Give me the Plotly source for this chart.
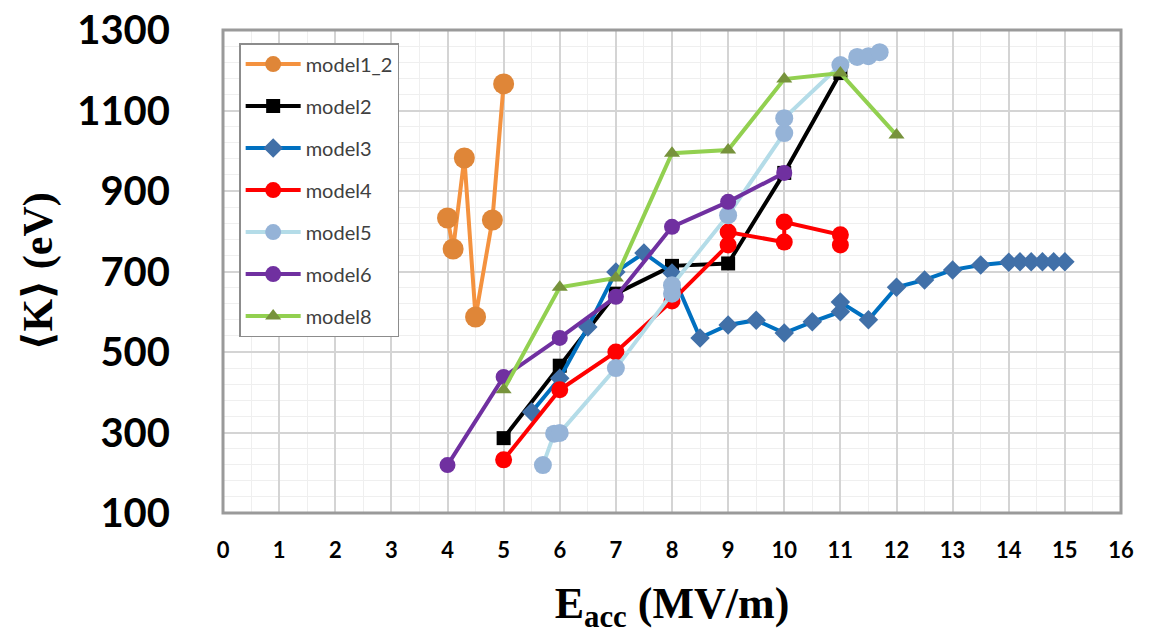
import plotly.graph_objects as go

# ---- data ----
x_m1_2 = [4.0, 4.1, 4.3, 4.5, 4.8, 5.0]
y_m1_2 = [833, 756, 982, 587, 828, 1166]

x_m2 = [5, 6, 7, 8, 9, 10, 11]
y_m2 = [286, 466, 645, 714, 720, 945, 1193]

x_m3 = [5.5, 6, 6.5, 7, 7.5, 8, 8.5, 9, 9.5, 10, 10.5, 11, 11, 11.5, 12,
        12.5, 13, 13.5, 14, 14.2, 14.4, 14.6, 14.8, 15]
y_m3 = [351, 435, 562, 699, 746, 696, 535, 567, 579, 547, 575, 600, 624, 580, 661,
        679, 704, 716, 723, 724, 724, 724, 724, 724]

x_m4 = [5, 6, 7, 8, 9, 9, 10, 10, 11, 11]
y_m4 = [232, 406, 500, 627, 766, 798, 773, 823, 791, 766]

x_m5 = [5.7, 5.9, 6.0, 7, 8, 8, 9, 10, 10, 11, 11.3, 11.5, 11.7]
y_m5 = [219, 297, 299, 460, 645, 666, 840, 1044, 1081, 1213, 1233, 1235, 1245]

x_m6 = [4, 5, 6, 7, 8, 9, 10]
y_m6 = [219, 438, 535, 637, 811, 873, 945]

x_m8 = [5, 6, 7, 8, 9, 10, 11, 12]
y_m8 = [406, 661, 684, 994, 1002, 1178, 1193, 1039]

x_ticks = list(range(0, 17))
y_ticks = [100, 300, 500, 700, 900, 1100, 1300]

series = [
    ("model1_2", x_m1_2, y_m1_2, "#F4923F", "#DF8638", "circle", 21, 4),
    ("model2", x_m2, y_m2, "#000000", "#000000", "square", 14, 4),
    ("model3", x_m3, y_m3, "#0070C0", "#4170A8", "diamond", 15, 4),
    ("model4", x_m4, y_m4, "#FF0000", "#FF0000", "circle", 17, 4),
    ("model5", x_m5, y_m5, "#B4DCE8", "#95B3D7", "circle", 18, 4),
    ("model6", x_m6, y_m6, "#7030A0", "#7030A0", "circle", 16, 4),
    ("model8", x_m8, y_m8, "#92D050", "#77933C", "triangle-up", 14, 4),
]

fig = go.Figure()
for name, xs, ys, lc, mc, sym, ms, lw in series:
    fig.add_trace(go.Scatter(
        x=xs, y=ys, name=name, mode="lines+markers",
        legendgroup=name,
        line=dict(color=lc, width=lw),
        marker=dict(color=mc, symbol=sym, size=ms, line=dict(width=0)),
    ))

fig.update_layout(
    width=1153, height=634,
    margin=dict(l=223, r=32, t=30, b=121, autoexpand=False),
    paper_bgcolor="white", plot_bgcolor="white",
    showlegend=True,
    legend=dict(
        x=0.018, y=0.973, xanchor="left", yanchor="top",
        bgcolor="white", bordercolor="#8C8C8C", borderwidth=1.5,
        font=dict(family="Lato, Noto Sans, sans-serif", size=20, color="#404040"),
        itemwidth=55, tracegroupgap=13,
    ),
)

fig.update_xaxes(
    automargin=False, ticklabeloverflow="allow",
    range=[0, 16], tickmode="array", tickvals=x_ticks,
    ticktext=[str(t) for t in x_ticks],
    showgrid=True, gridcolor="#D4D4D4", gridwidth=1.5,
    minor=dict(dtick=0.5, tick0=0, showgrid=True, gridcolor="#EFEFEF", gridwidth=1),
    zeroline=False, showline=False,
    ticks="outside", ticklen=18, tickcolor="rgba(0,0,0,0)",
    tickfont=dict(family="Lato, sans-serif", size=22, color="#000000", weight="bold"),
    title=dict(text="E<sub>acc</sub> (MV/m)", standoff=24,
               font=dict(family="Liberation Serif, Times New Roman, serif", size=44,
                         color="#000000", weight="bold")),
)
fig.update_yaxes(
    automargin=False, ticklabeloverflow="allow",
    range=[100, 1300], tickmode="array", tickvals=y_ticks,
    ticktext=[str(t) for t in y_ticks],
    showgrid=True, gridcolor="#D4D4D4", gridwidth=1.5,
    minor=dict(dtick=40, tick0=100, showgrid=True, gridcolor="#EFEFEF", gridwidth=1),
    zeroline=False, showline=False,
    ticks="outside", ticklen=44, tickcolor="rgba(0,0,0,0)",
    tickfont=dict(family="Lato, sans-serif", size=40, color="#000000", weight="bold"),
    title=dict(text="⟨K⟩ (eV)", standoff=11,
               font=dict(family="Liberation Serif, DejaVu Serif, serif", size=42,
                         color="#000000", weight="bold")),
)

# plot-area border
fig.add_shape(type="rect", xref="paper", yref="paper", x0=0, y0=0, x1=1, y1=1,
              line=dict(color="#9A9A9A", width=3), fillcolor="rgba(0,0,0,0)", layer="above")

# remove the default 8px page margin so the figure fills the window exactly
fig.write_html("out.html",
               config={"displayModeBar": False},
               post_script="document.body.style.margin='0';document.body.style.overflow='hidden';")
